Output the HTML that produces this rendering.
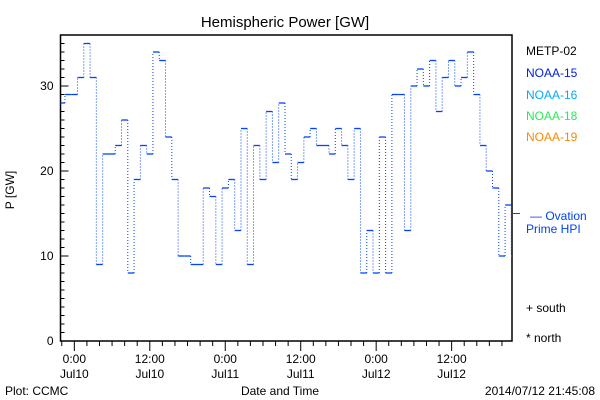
<!DOCTYPE html>
<html><head><meta charset="utf-8"><style>
body{margin:0;background:#fff;}
svg{display:block;font-family:"Liberation Sans",sans-serif;}
</style></head><body>
<svg id="chart" width="600" height="400" viewBox="0 0 600 400">
<rect width="600" height="400" fill="#fff"/>
<text x="285" y="27" font-size="15" text-anchor="middle">Hemispheric Power [GW]</text>
<g id="axes"></g>
<g id="series"></g>
<text x="14" y="190" font-size="12" text-anchor="middle" transform="rotate(-90 14 190)">P [GW]</text>
<text x="280" y="395" font-size="12" text-anchor="middle">Date and Time</text>
<text x="5" y="395" font-size="12">Plot: CCMC</text>
<text x="595" y="395" font-size="12" text-anchor="end">2014/07/12 21:45:08</text>
<g font-size="12">
<text x="526" y="55" fill="#000">METP-02</text>
<text x="526" y="77" fill="#0022dd">NOAA-15</text>
<text x="526" y="99" fill="#00aaff">NOAA-16</text>
<text x="526" y="120" fill="#22ee55">NOAA-18</text>
<text x="526" y="141" fill="#ff8800">NOAA-19</text>
<text x="530" y="220" fill="#0044ee">— Ovation</text>
<text x="526" y="233" fill="#0044ee">Prime HPI</text>
<text x="526" y="312" fill="#000">+ south</text>
<text x="526" y="342" fill="#000">* north</text>
</g>
</svg>
<script>
const startHour = -2;
const powerValues = [28,29,29,31,35,31,9,22,22,23,26,8,19,23,22,34,33,24,19,10,10,9,9,18,17,9,18,19,13,25,9,23,19,27,21,28,22,19,21,24,25,23,23,22,25,23,19,25,8,13,8,24,8,29,29,13,30,32,30,33,27,31,33,30,31,34,29,23,20,18,10,16,10];
const yTicks = [0,10,20,30];
const xTickHours = [0,12,24,36,48,60];
const xTickLabels = [["0:00","Jul10"],["12:00","Jul10"],["0:00","Jul11"],["12:00","Jul11"],["0:00","Jul12"],["12:00","Jul12"]];
const L=60.5,R=512,T=35,B=341;
const hMin=-2.2,hMax=69.6,vMin=0,vMax=36;
const xs=h=>L+(h-hMin)/(hMax-hMin)*(R-L);
const ys=v=>B-(v-vMin)/(vMax-vMin)*(B-T);
const NS="http://www.w3.org/2000/svg";
function mk(tag,attrs,parent){const e=document.createElementNS(NS,tag);for(const k in attrs)e.setAttribute(k,attrs[k]);parent.appendChild(e);return e;}
const ax=document.getElementById('axes');
const frame=mk('rect',{x:L,y:T,width:R-L,height:B-T,fill:'none',stroke:'#000','stroke-width':1.5},ax);


for(let v=0;v<=36;v++){const y=ys(v);const len=v%10===0?8:4;
 const t=mk('line',{x1:L,x2:L+len,y1:y,y2:y,stroke:'#000'},ax);
 
 }
yTicks.forEach(v=>{const t=mk('text',{x:L-7,y:ys(v)+4,'font-size':12,'text-anchor':'end'},ax);t.textContent=v;
 
 });
for(let h=-2;h<=68;h+=2){const x=xs(h);const len=h%12===0?10:5;
 const t=mk('line',{x1:x,x2:x,y1:B,y2:B+len,stroke:'#000'},ax);
 
 }
xTickHours.forEach((h,i)=>{const x=xs(h);
 const t1=mk('text',{x:x,y:363,'font-size':12,'text-anchor':'middle'},ax);t1.textContent=xTickLabels[i][0];
 
 
 const t2=mk('text',{x:x,y:378,'font-size':12,'text-anchor':'middle'},ax);t2.textContent=xTickLabels[i][1];
 
 });
const sg=document.getElementById('series');
let prev=null;
powerValues.forEach((v,i)=>{const h=startHour+i;
 const x1=Math.max(L,xs(h-0.5)),x2=Math.min(R,xs(h+0.5));const y=ys(v);
 const s=mk('line',{x1:x1,x2:x2,y1:y,y2:y,stroke:'#0044ff','stroke-width':1.3},sg);
 
 
 if(prev!==null){const d=mk('line',{x1:x1,x2:x1,y1:ys(prev),y2:y,stroke:'#0044ff','stroke-width':1,'stroke-dasharray':'1 2'},sg);
  
  }
 prev=v;});
const m=mk('line',{x1:R,x2:R+8,y1:ys(15),y2:ys(15),stroke:'#0044ff'},sg);


</script>
</body></html>
